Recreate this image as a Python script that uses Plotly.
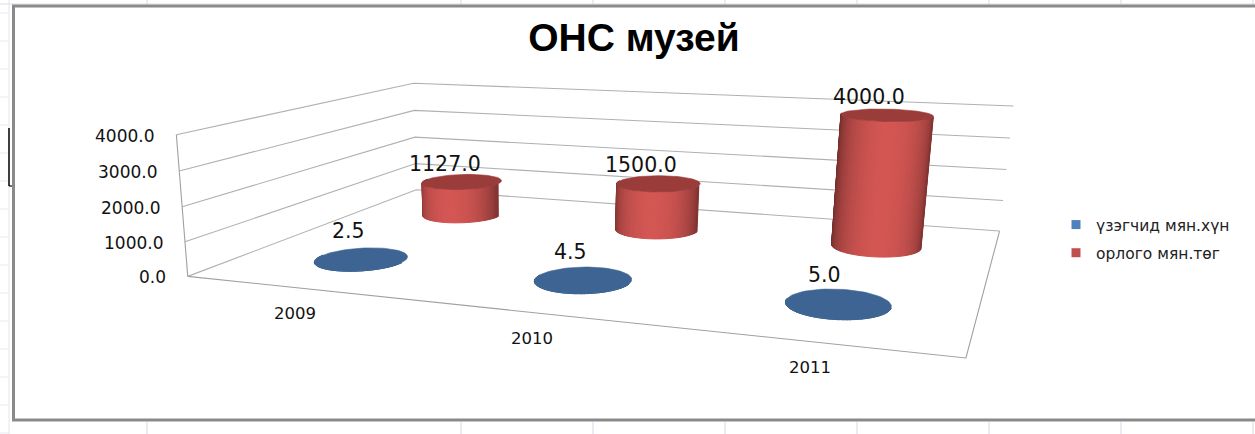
import numpy as np
import plotly.graph_objects as go

# ---------- data ----------
years = ["2009", "2010", "2011"]
visitors = [2.5, 4.5, 5.0]
income = [1127.0, 1500.0, 4000.0]
z_ticks = [0, 1000, 2000, 3000, 4000]
z_tick_labels = ["0.0", "1000.0", "2000.0", "3000.0", "4000.0"]
series_names = ["үзэгчид мян.хүн", "орлого мян.төг"]
title = "ОНС музей"

# ---------- 3-D view: a projective camera fitted to the plot box ----------
W, H = 1255, 434
Z_MAX = z_ticks[-1]
box_world = np.array([[0,0,0],[1,0,0],[1,1,0],[0,1,0],[0,0,1],[0,1,1],[1,1,1]], float)
box_view = np.array([[189,276],[966,358],[1000,231],[415,190],[175,135],[415,83],[1013,106]], float)
rows, rhs = [], []
for (a, b, c), (u, v) in zip(box_world, box_view):
    rows.append([a, b, c, 1, 0, 0, 0, 0, -u*a, -u*b, -u*c]); rhs.append(u)
    rows.append([0, 0, 0, 0, a, b, c, 1, -v*a, -v*b, -v*c]); rhs.append(v)
CAM = np.append(np.linalg.lstsq(np.array(rows), np.array(rhs), rcond=None)[0], 1).reshape(3, 4)

def view(x, y, z):
    """category units, series units, value units -> axis coordinates"""
    x, y, z = np.broadcast_arrays(np.asarray(x, float), np.asarray(y, float), np.asarray(z, float))
    w = np.stack([x/len(years), y/2, z/Z_MAX, np.ones_like(x, dtype=float)])
    p = CAM @ w.reshape(4, -1)
    return (p[0]/p[2]), (p[1]/p[2])

fig = go.Figure()

def line(x, y, z, color="#b0b0b0", width=1.1):
    u, v = view(x, y, z)
    fig.add_trace(go.Scatter(x=u, y=v, mode="lines", line=dict(color=color, width=width),
                             showlegend=False, hoverinfo="skip"))

# walls and floor
n = len(years)
for t in z_ticks:
    line([0, 0, n], [0, 2, 2], [t, t, t])
line([0, 0], [0, 0], [0, Z_MAX], color="#a0a0a0")
line([0, n, n], [0, 0, 2], [0, 0, 0], color="#a0a0a0")

RX, RY, OFF = 0.19, 0.21, 0.012
def mix(c1, c2, s):
    return "rgb(%d,%d,%d)" % tuple(round(a + (b-a)*s) for a, b in zip(c1, c2))

def cylinder(i, row, value, edge, mid, cap):
    cx, cy = i + 0.5 + OFF, row + 0.5
    th = np.radians(np.linspace(178, 362, 46))
    for a, b in zip(th[:-1], th[1:]):
        tt = np.array([a, b, b, a, a])
        zz = np.array([0, 0, value, value, 0])
        u, v = view(cx + RX*np.cos(tt), cy + RY*np.sin(tt), zz)
        s = max(0.0, np.cos((a+b)/2 - np.radians(282)))**1.1
        col = mix(edge, mid, s)
        fig.add_trace(go.Scatter(x=u, y=v, mode="lines", fill="toself", fillcolor=col,
                                 line=dict(color=col, width=1), showlegend=False, hoverinfo="skip"))
    ang = np.radians(np.linspace(0, 360, 73))
    u, v = view(cx + RX*np.cos(ang), cy + RY*np.sin(ang), np.full_like(ang, value))
    fig.add_trace(go.Scatter(x=u, y=v, mode="lines", fill="toself", fillcolor=cap,
                             line=dict(color=cap, width=0.6), showlegend=False, hoverinfo="skip"))

RED_EDGE, RED_MID, RED_CAP = (112, 44, 42), (211, 86, 83), "#993c3a"
BLUE_EDGE, BLUE_MID, BLUE_CAP = (48, 82, 125), (62, 101, 148), "#3d6493"
for i, v in enumerate(income):
    cylinder(i, 1, v, RED_EDGE, RED_MID, RED_CAP)
for i, v in enumerate(visitors):
    cylinder(i, 0, v, BLUE_EDGE, BLUE_MID, BLUE_CAP)

# legend entries
for name, col in zip(series_names, ["#4f81bd", "#c0504d"]):
    fig.add_trace(go.Scatter(x=[None], y=[None], mode="markers", name=name, legendgroup=name,
                             marker=dict(symbol="square", size=9, color=col), hoverinfo="skip"))

annotations = []
def label(x, y, z, text, size, dx=0, dy=0, xanchor="center", yanchor="middle"):
    u, v = view(x, y, z)
    annotations.append(dict(x=float(u[0]), y=float(v[0]), text=text, showarrow=False, xshift=dx, yshift=-dy,
                            xanchor=xanchor, yanchor=yanchor, xref="x", yref="y",
                            font=dict(family="DejaVu Sans", size=size, color="#111111")))
for t, s in zip(z_ticks, z_tick_labels):
    label(0, 0, t, s, 17, dx=-20, dy=1, xanchor="right")
for i, yr in enumerate(years):
    label(i + 0.5, 0, 0, yr, 16.5, dx=0, dy=26)
for i, v in enumerate(visitors):
    label(i + 0.5, 0.5, v, "%.1f" % v, 20.5, dx=-10, dy=-28)
for i, v in enumerate(income):
    label(i + 0.5, 1.5, v, "%.1f" % v, 20.5, dx=-15, dy=-18)

shapes = []
def seg(x0, y0, x1, y1, color, width):
    shapes.append(dict(type="line", xref="x", yref="y", x0=x0, y0=y0, x1=x1, y1=y1,
                       line=dict(color=color, width=width)))
GRIDC = "#d3d9e6"
for x in [147, 461, 593, 725, 857, 989, 1121, 1253]:
    seg(x, 0, x, 4, GRIDC, 1)
    seg(x, 422, x, 434, GRIDC, 1)
seg(9, 0, 9, 434, "#e2e6ee", 1)
for y in range(13, 434, 28):
    seg(0, y, 9, y, "#e6e9f0", 1)
seg(0, 4, 1255, 4, "#d9dde6", 1)
shapes.append(dict(type="rect", xref="x", yref="y", x0=13.5, y0=6, x1=1262, y1=420,
                   line=dict(color="#8a8a8a", width=3), fillcolor="rgba(0,0,0,0)"))
seg(9, 128, 9, 186, "#111111", 1.6)
seg(9, 186, 12, 186, "#111111", 1.2)

fig.update_layout(
    width=W, height=H, margin=dict(l=0, r=0, t=0, b=0),
    paper_bgcolor="white", plot_bgcolor="white",
    xaxis=dict(visible=False, range=[0, W], fixedrange=True),
    yaxis=dict(visible=False, range=[H, 0], fixedrange=True),
    title=dict(text="<b>%s</b>" % title, x=634/W, xanchor="center", y=1-37/H, yanchor="middle",
               font=dict(family="Liberation Sans", size=39, color="#000000")),
    legend=dict(x=1067/W, y=1-208/H, xanchor="left", yanchor="top", traceorder="grouped", tracegroupgap=5,
                indentation=-11, font=dict(family="DejaVu Sans", size=15.5, color="#222222"),
                bgcolor="rgba(0,0,0,0)"),
    annotations=annotations, shapes=shapes, showlegend=True,
)
fig.write_html("out.html", config=dict(displayModeBar=False),
               post_script="document.documentElement.style.overflow='hidden';document.body.style.margin='0';")
